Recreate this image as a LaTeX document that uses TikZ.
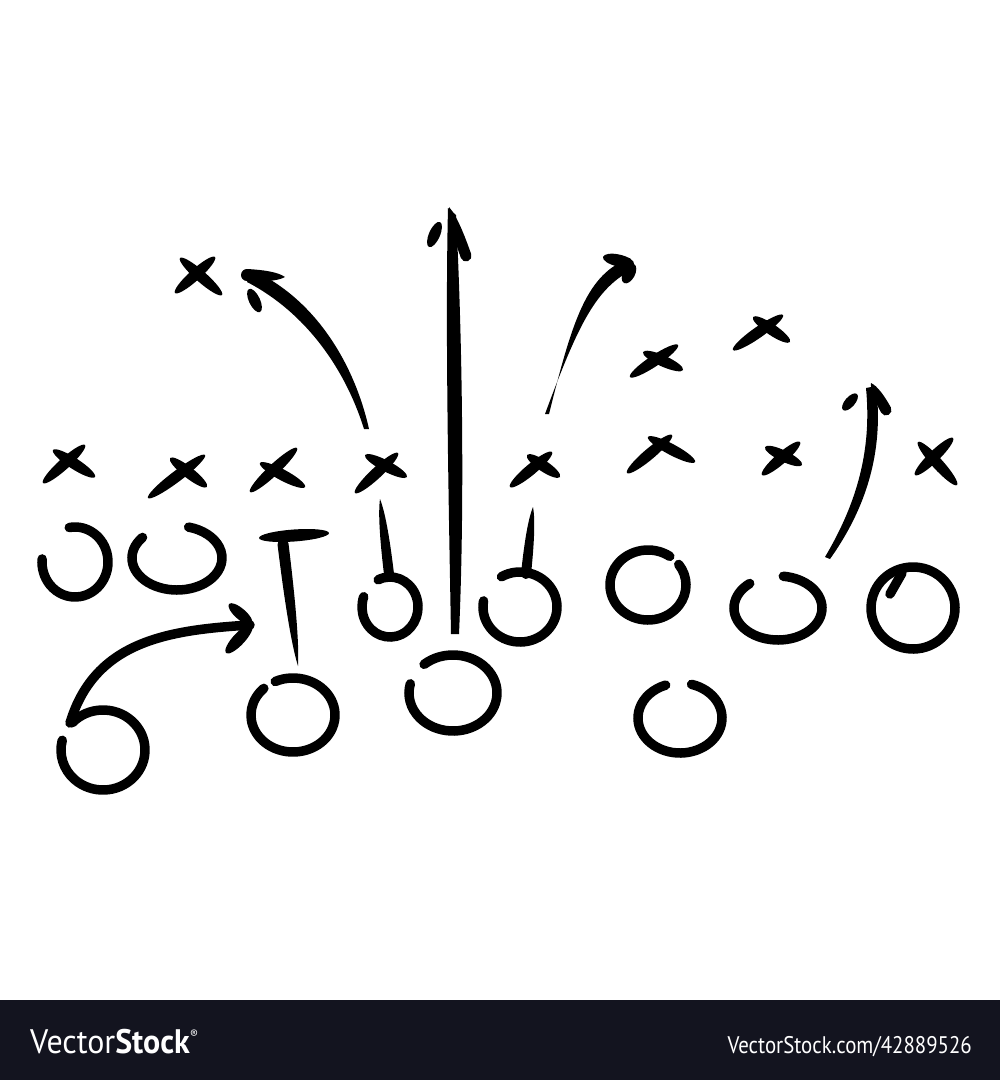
\documentclass[tikz,border=0pt]{standalone}
\usepackage{fontspec}
\newfontfamily\wmfont{PT Sans}
\definecolor{barcol}{HTML}{13141F}
% ellipse-shaped brush stroke between two points
\newcommand\brush[5]{%
 \pgfmathsetmacro\bcx{(#1+#3)/2}\pgfmathsetmacro\bcy{(#2+#4)/2}%
 \pgfmathsetmacro\blen{veclen(#3-#1,#4-#2)/2}%
 \pgfmathsetmacro\bang{atan2(#2-#4,#3-#1)}%
 \fill[shift={(\bcx,\bcy)}, rotate=\bang] (0,0) ellipse[x radius=\blen, y radius=#5/2];}
% tapered stroke: thin end (#1,#2), thick round end (#3,#4), width #5
\newcommand\taper[5]{%
 \pgfmathsetmacro\tlen{veclen(#3-#1,#4-#2)}%
 \pgfmathsetmacro\tang{atan2(#2-#4,#3-#1)}%
 \pgfmathsetmacro\thw{#5/2}%
 \fill[shift={(#1,#2)}, rotate=\tang] (0,0) .. controls ({0.2*\tlen},{0.4*#5}) and ({0.6*\tlen},{0.5*#5}) .. (\tlen,\thw)
   arc[start angle=90,end angle=-90,radius=\thw] .. controls ({0.6*\tlen},{-0.5*#5}) and ({0.2*\tlen},{-0.4*#5}) .. (0,0) -- cycle;}
% open ring: centre, radii, start/end angle
\newcommand\ring[6]{%
 \draw[ringline, shift={(#1,#2)}] (#5:#3 and #4) arc[start angle=#5, end angle=#6, x radius=#3, y radius=#4];}
% X mark from two strokes
\newcommand\xmark[8]{\brush{#1}{#2}{#3}{#4}{11}\brush{#5}{#6}{#7}{#8}{11}}
\begin{document}
\begin{tikzpicture}[x=1pt,y=-1pt,
  ringline/.style={line width=9.5pt, line cap=round, black},
  shaftline/.style={line width=9.5pt, line cap=round, black}]
\useasboundingbox (0,0) rectangle (1000,1080);
\fill[white] (0,0) rectangle (1000,1000);
\fill[barcol] (0,1000) rectangle (1000,1080);

% ---- defence (X) ----
\xmark{43}{483}{85}{445}{53}{450}{95}{477}
\xmark{148}{498}{205}{455}{170}{458}{207}{487}
\xmark{250}{492}{297}{448}{260}{463}{305}{487}
\xmark{355}{493}{398}{453}{365}{455}{407}{477}
\xmark{510}{487}{552}{452}{527}{455}{560}{477}
\xmark{627}{473}{672}{435}{648}{437}{695}{462}
\xmark{762}{475}{800}{442}{765}{447}{802}{465}
\xmark{915}{475}{953}{438}{918}{442}{957}{485}
\xmark{630}{377}{678}{345}{643}{352}{683}{370}
\xmark{733}{350}{783}{315}{753}{317}{790}{342}
\xmark{175}{293}{215}{257}{180}{258}{222}{295}

% ---- offence (O) ----
\ring{75}{562}{33}{35}{-100}{185}
\ring{177}{558}{45}{32}{-140}{-435}
\ring{390}{607}{28}{30}{-115}{200}
\ring{520}{607}{37}{35}{-120}{190}
\ring{648}{585}{38}{35}{-55}{-396}
\ring{778}{608}{44}{32}{-130}{-443}
\ring{913}{608}{42}{41}{-125}{245}
\draw[ringline] (890,594) -- (902,573);
\ring{103}{750}{42}{40}{-137}{194}
\ring{293}{715}{42}{37}{-115}{226}
\ring{453}{693}{44}{38}{-131}{194}
\ring{680}{718}{42}{35}{-74}{250}

% T block and stems
\brush{259}{538}{329}{533}{12}
\taper{298}{666}{283}{544}{11}
\taper{380}{499}{389}{574}{10}
\taper{533}{507}{526}{574}{10}

% ---- arrow A (curving up-left) ----
\fill (369,429) .. controls (354,362) and (314,298) .. (252,270) -- (247,282) .. controls (305,312) and (345,368) .. (364,429) -- cycle;
\taper{285}{277}{247}{275}{12}
\brush{249}{289}{260}{312}{11}

% ---- arrow B (straight up) ----
\fill (448,208) .. controls (445,330) and (449,520) .. (451,634) -- (459,634) .. controls (465,500) and (462,330) .. (456,215) -- cycle;
\taper{449}{207}{466}{256}{11}
\brush{440}{222}{429}{247}{11}

% ---- arrow C (up-right) ----
\fill (549,414) .. controls (573,318) and (587,274) .. (630,258) -- (634,269) .. controls (596,287) and (578,325) .. (545,414) -- cycle;
\brush{603}{257}{634}{264}{12}
\brush{634}{264}{624}{283}{12}

% ---- arrow D (right side, up) ----
\fill (830,559) .. controls (867,507) and (884,450) .. (876,386) -- (866,388) .. controls (872,450) and (857,503) .. (825,557) -- cycle;
\taper{871}{383}{886}{410}{11}
\brush{857}{394}{843}{410}{10}

% ---- arrow E (bottom left) ----
\draw[shaftline] (70,723) .. controls (95,640) and (170,630) .. (250,625);
\brush{229}{604}{252}{624}{11}
\brush{252}{625}{226}{653}{12}

% ---- watermark bar ----
\node[anchor=base west, inner sep=0, text=white, font=\wmfont\fontsize{34}{34}\selectfont] (logo) at (30,1053)
  {\scalebox{0.94}[1]{Vector\textbf{Stock}}\raisebox{15pt}{\fontsize{12}{12}\selectfont\textregistered}};
\node[anchor=base east, inner sep=0, text=white, font=\wmfont\fontsize{24}{24}\selectfont] (url) at (972,1053)
  {\scalebox{0.87}[1]{VectorStock.com/42889526}};
\end{tikzpicture}
\end{document}
